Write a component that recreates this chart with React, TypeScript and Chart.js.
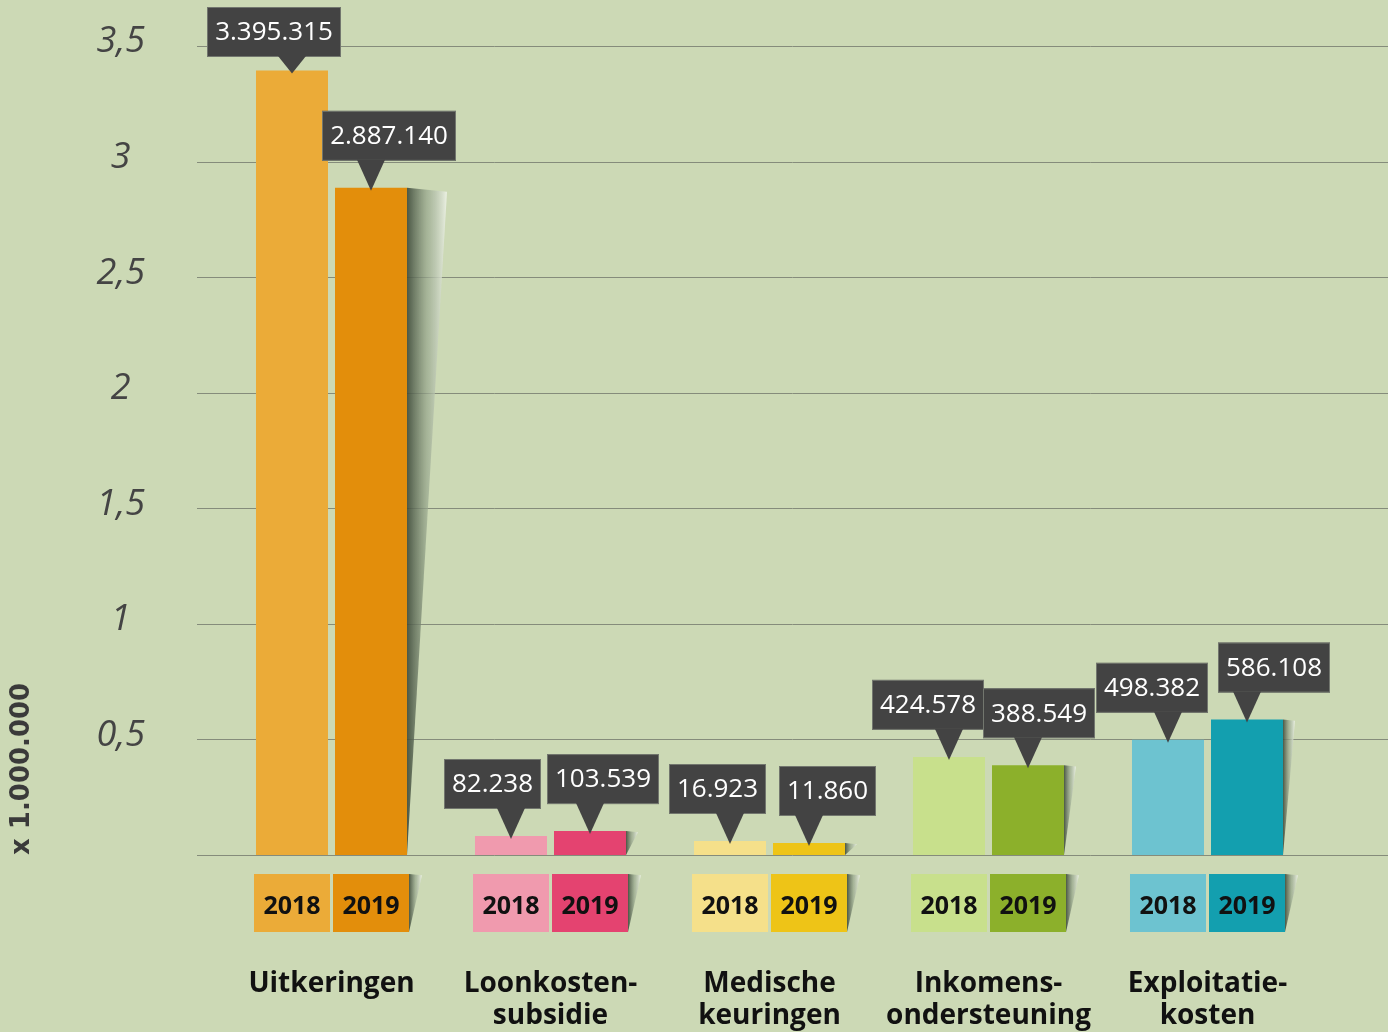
import React, { useEffect, useRef } from 'react';
import { Chart, registerables } from 'chart.js';

Chart.register(...registerables);

const categories: string[][] = [
  ['Uitkeringen'],
  ['Loonkosten-', 'subsidie'],
  ['Medische', 'keuringen'],
  ['Inkomens-', 'ondersteuning'],
  ['Exploitatie-', 'kosten'],
];
const years = ['2018', '2019'];
const values2018 = [3395315, 82238, 16923, 424578, 498382];
const values2019 = [2887140, 103539, 11860, 388549, 586108];
const colors2018 = ['#EBAB38', '#F09AAE', '#F5E08A', '#C8E08C', '#6DC3D0'];
const colors2019 = ['#E38E0B', '#E44370', '#EEC417', '#8CB02B', '#139FAF'];
const yTickValues = [0, 500000, 1000000, 1500000, 2000000, 2500000, 3000000, 3500000];
const yTitle = 'x 1.000.000';

const fmt = (v: number) => String(v).replace(/\B(?=(\d{3})+(?!\d))/g, '.');

function drawShadow(ctx: CanvasRenderingContext2D, x0: number, top: number, bottom: number, w: number) {
  const g = ctx.createLinearGradient(x0, 0, x0 + w, 0);
  g.addColorStop(0, 'rgba(62,74,58,0.9)');
  g.addColorStop(0.5, 'rgba(150,165,140,0.7)');
  g.addColorStop(1, 'rgba(236,241,228,0.95)');
  ctx.fillStyle = g;
  ctx.beginPath();
  ctx.moveTo(x0, top);
  ctx.lineTo(x0 + w, top + Math.min(4, w * 0.1));
  ctx.lineTo(x0, bottom);
  ctx.closePath();
  ctx.fill();
}

const gridPlugin = {
  id: 'extGrid',
  beforeDatasetsDraw(chart: any) {
    const ys = chart.scales.y;
    const ctx = chart.ctx as CanvasRenderingContext2D;
    const { left } = chart.chartArea;
    ctx.save();
    ctx.strokeStyle = '#858c7b';
    ctx.lineWidth = 1;
    ys.ticks.forEach((t: any) => {
      const py = Math.round(ys.getPixelForValue(t.value)) + 0.5;
      ctx.beginPath();
      ctx.moveTo(left - 25, py);
      ctx.lineTo(chart.width, py);
      ctx.stroke();
    });
    ctx.restore();
  },
};

const shadowPlugin = {
  id: 'barShadows',
  beforeDatasetsDraw(chart: any) {
    const ctx = chart.ctx as CanvasRenderingContext2D;
    ctx.save();
    const meta = chart.getDatasetMeta(1);
    meta.data.forEach((el: any) => {
      const { x, y, base, width } = el.getProps(['x', 'y', 'base', 'width'], true);
      const h = base - y;
      const sw = Math.max(12, h * 0.06);
      drawShadow(ctx, x + width / 2, y, base, sw);
    });
    ctx.restore();
  },
};

const yearBoxPlugin = {
  id: 'yearBoxes',
  afterDatasetsDraw(chart: any) {
    const ctx = chart.ctx as CanvasRenderingContext2D;
    const top = chart.chartArea.bottom + 19;
    const h = 58;
    ctx.save();
    chart.data.datasets.forEach((ds: any, d: number) => {
      const meta = chart.getDatasetMeta(d);
      meta.data.forEach((el: any, i: number) => {
        const { x, width } = el.getProps(['x', 'width'], true);
        const l = x - width / 2 - 2;
        const r = x + width / 2 + 2;
        if (d === 1) drawShadow(ctx, r, top, top + h, 13);
        ctx.fillStyle = ds.backgroundColor[i];
        ctx.fillRect(l, top, r - l, h);
        ctx.fillStyle = '#111';
        ctx.font = 'bold 25px "Open Sans", sans-serif';
        ctx.textAlign = 'center';
        ctx.textBaseline = 'middle';
        ctx.fillText(ds.label, x, top + h / 2 + 4);
      });
    });
    ctx.restore();
  },
};

const valueLabelPlugin = {
  id: 'valueLabels',
  afterDatasetsDraw(chart: any) {
    const ctx = chart.ctx as CanvasRenderingContext2D;
    ctx.save();
    ctx.font = '26px "Open Sans", sans-serif';
    const bh = 50;
    const triH = 28;
    const triW = 28;
    const boxes: any[] = [];
    chart.data.datasets.forEach((ds: any, d: number) => {
      const meta = chart.getDatasetMeta(d);
      meta.data.forEach((el: any, i: number) => {
        const { x, y } = el.getProps(['x', 'y'], true);
        const text = fmt(ds.data[i]);
        const tw = ctx.measureText(text).width;
        const bw = Math.round(tw + 16);
        const tipY = y + 3;
        let boxBottom = tipY - triH - 2;
        let boxTop = boxBottom - bh;
        if (boxTop < 7) {
          boxTop = 7;
          boxBottom = boxTop + bh;
        }
        const cx = x + (d === 0 ? -18 : 18);
        const left = Math.round(cx - bw / 2);
        boxes.push({ x, tipY, text, bw, left, top: boxTop, bottom: boxBottom });
      });
    });
    boxes.sort((a, b) => a.x - b.x);
    const minL = (b: any) => b.x + triW / 2 + 4 - b.bw;
    const maxL = (b: any) => b.x - triW / 2 - 4;
    for (let k = 1; k < boxes.length; k++) {
      const p = boxes[k - 1];
      const c = boxes[k];
      const vOverlap = c.top < p.bottom && p.top < c.bottom;
      const need = p.left + p.bw + 10 - c.left;
      if (vOverlap && need > 0) {
        const np = Math.max(minL(p), p.left - need / 2);
        const moved = p.left - np;
        p.left = np;
        c.left = Math.min(maxL(c), c.left + (need - moved));
      }
    }
    boxes.forEach((b) => {
      const bl = Math.round(b.left);
      ctx.fillStyle = '#434343';
      ctx.fillRect(bl, b.top, b.bw, bh);
      ctx.strokeStyle = 'rgba(120,124,115,0.9)';
      ctx.lineWidth = 1;
      ctx.strokeRect(bl + 0.5, b.top + 0.5, b.bw - 1, bh - 1);
      ctx.fillStyle = '#434343';
      ctx.beginPath();
      ctx.moveTo(b.x - triW / 2, b.bottom - 1);
      ctx.lineTo(b.x + triW / 2, b.bottom - 1);
      ctx.lineTo(b.x, b.tipY);
      ctx.closePath();
      ctx.fill();
      ctx.fillStyle = '#ffffff';
      ctx.textAlign = 'center';
      ctx.textBaseline = 'middle';
      ctx.fillText(b.text, bl + b.bw / 2, b.top + bh / 2 + 1);
    });
    ctx.restore();
  },
};

export default function App() {
  const canvasRef = useRef<HTMLCanvasElement | null>(null);

  useEffect(() => {
    document.body.style.margin = '0';
    const canvas = canvasRef.current;
    if (!canvas) return;
    const chart = new Chart(canvas, {
      type: 'bar',
      data: {
        labels: categories as any,
        datasets: [
          {
            label: years[0],
            data: values2018,
            backgroundColor: colors2018,
            categoryPercentage: 0.7215,
            barPercentage: 0.9114,
            minBarLength: 14,
          },
          {
            label: years[1],
            data: values2019,
            backgroundColor: colors2019,
            categoryPercentage: 0.7215,
            barPercentage: 0.9114,
            minBarLength: 12,
          },
        ],
      },
      options: {
        animation: false,
        responsive: false,
        devicePixelRatio: 1,
        layout: { padding: { left: 0, top: 0, right: 71, bottom: 0 } },
        plugins: {
          legend: { display: false },
          tooltip: { enabled: false },
        },
        scales: {
          x: {
            offset: true,
            grid: { display: false, drawTicks: false },
            border: { display: false },
            afterFit: (s: any) => {
              s.height = 177;
              s.paddingLeft = 0;
              s.paddingRight = 0;
            },
            ticks: {
              autoSkip: false,
              maxRotation: 0,
              minRotation: 0,
              padding: 113,
              color: '#111',
              font: { family: '"Open Sans", sans-serif', size: 28, weight: 'bold', lineHeight: 1.15 },
            },
          },
          y: {
            min: 0,
            max: 3700000,
            afterBuildTicks: (s: any) => {
              s.ticks = yTickValues.map((v) => ({ value: v }));
            },
            afterFit: (s: any) => {
              s.width = 222;
              s.paddingTop = 0;
              s.paddingBottom = 0;
            },
            grid: { display: false, drawTicks: false },
            border: { display: false },
            ticks: {
              crossAlign: 'center',
              padding: 77,
              labelOffset: -4,
              color: '#444',
              font: { family: '"Open Sans", sans-serif', size: 36, style: 'italic' },
              callback: (v: any) => (Number(v) === 0 ? '' : String(Number(v) / 1000000).replace('.', ',')),
            },
            title: {
              display: true,
              text: yTitle,
              align: 'start',
              color: '#3a3a3a',
              font: { family: '"DejaVu Sans", sans-serif', size: 26, weight: 'bold' },
              padding: { top: 7, bottom: 0 },
            },
          },
        },
      } as any,
      plugins: [gridPlugin, shadowPlugin, yearBoxPlugin, valueLabelPlugin],
    });
    return () => chart.destroy();
  }, []);

  return (
    <div
      style={{
        position: 'absolute',
        left: 0,
        top: 0,
        width: 1388,
        height: 1032,
        background: '#ccd9b5',
        overflow: 'hidden',
      }}
    >
      <canvas ref={canvasRef} width={1388} height={1032} style={{ display: 'block', width: 1388, height: 1032 }} />
    </div>
  );
}
